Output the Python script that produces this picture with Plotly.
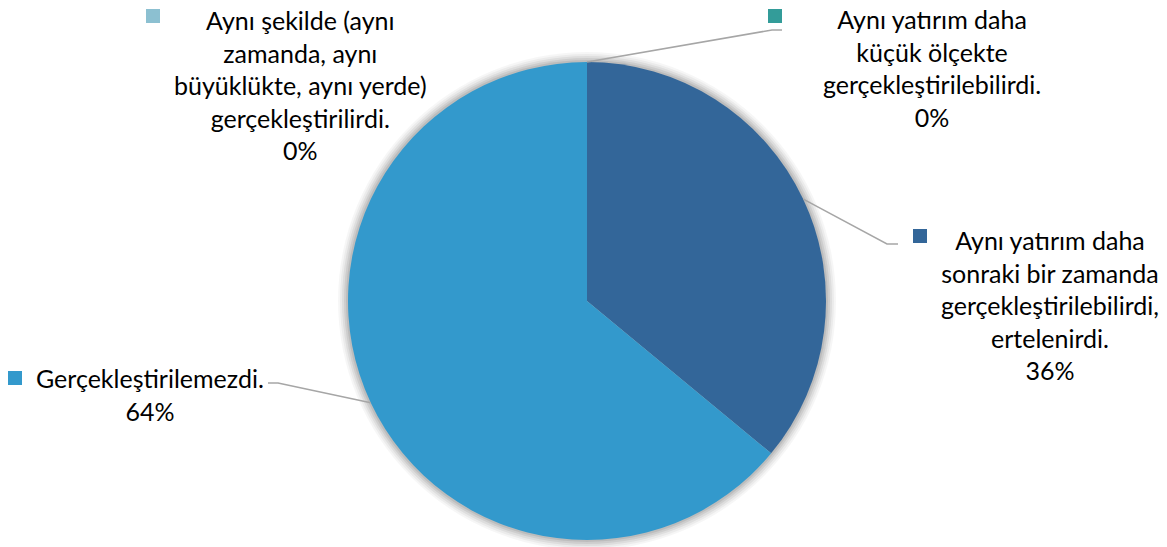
import math
import plotly.graph_objects as go

# ---- data ----
labels = [
    "Aynı şekilde (aynı<br>zamanda, aynı<br>büyüklükte, aynı yerde)<br>gerçekleştirilirdi.",
    "Aynı yatırım daha<br>küçük ölçekte<br>gerçekleştirilebilirdi.",
    "Aynı yatırım daha<br>sonraki bir zamanda<br>gerçekleştirilebilirdi,<br>ertelenirdi.",
    "Gerçekleştirilemezdi.",
]
values = [0, 0, 36, 64]
colors = ["#8CC0D1", "#339C99", "#336699", "#3399CC"]

# ---- layout constants (screen pixels) ----
W, H = 1167, 547
CX, CY, R = 587, 301, 239
FONT = "Lato, 'Open Sans', sans-serif"
FS = 25

# label boxes: (center x, center y, marker x, marker y, elbow x, elbow y, end x)
label_pos = [
    (300, 85, 153, 16, None, None, None),
    (932, 68, 775, 16, 772, 30, 782),
    (1050, 305, 920, 236, 887, 244, 898),
    (150, 394, 15, 378, 278, 383, 268),
]

fig = go.Figure()

fig.add_trace(go.Pie(
    values=values, labels=[l.replace("<br>", " ") for l in labels],
    marker=dict(colors=colors, line=dict(width=0)),
    sort=False, direction="clockwise", rotation=0,
    textinfo="none", showlegend=False,
    domain=dict(x=[(CX - R) / W, (CX + R) / W],
                y=[(H - (CY + R)) / H, (H - (CY - R)) / H]),
))

shapes = []
# soft shadow rings (below the pie)
for k, op in [(10, 0.035), (8, 0.045), (6, 0.06), (4, 0.07), (2, 0.08)]:
    rr = R + k
    shapes.append(dict(type="circle", xref="x", yref="y", layer="below",
                       x0=CX - rr, x1=CX + rr, y0=CY - rr, y1=CY + rr,
                       fillcolor=f"rgba(0,0,0,{op})", line=dict(width=0)))

total = sum(values)
cum = 0
annotations = []
for i, (lab, v) in enumerate(zip(labels, values)):
    mid = (cum + v / 2) / total * 2 * math.pi
    cum += v
    pct = f"{round(v / total * 100)}%"
    cx, cy, mx, my, ex, ey, tx = label_pos[i]
    annotations.append(dict(
        x=cx, y=cy, xref="x", yref="y", text=f"{lab}<br>{pct}", showarrow=False,
        align="center", xanchor="center", yanchor="middle", borderpad=0,
        font=dict(family=FONT, size=FS, color="#000000"),
    ))
    shapes.append(dict(type="rect", xref="x", yref="y",
                       x0=mx - 7, x1=mx + 7, y0=my - 7, y1=my + 7,
                       fillcolor=colors[i], line=dict(width=0)))
    if ex is not None:
        sx = CX + R * math.sin(mid)
        sy = CY - R * math.cos(mid)
        shapes.append(dict(type="path", xref="x", yref="y",
                           path=f"M {sx:.1f} {sy:.1f} L {ex} {ey} L {tx} {ey}",
                           line=dict(color="#A6A6A6", width=1.5)))

fig.update_layout(
    width=W, height=H, margin=dict(l=0, r=0, t=0, b=0),
    paper_bgcolor="white", plot_bgcolor="rgba(0,0,0,0)",
    xaxis=dict(range=[0, W], visible=False, fixedrange=True),
    yaxis=dict(range=[H, 0], visible=False, fixedrange=True),
    annotations=annotations, shapes=shapes, showlegend=False,
)

fig.write_html("out.html", config={"displayModeBar": False},
               post_script="document.body.style.margin='0';document.body.style.overflow='hidden';")
